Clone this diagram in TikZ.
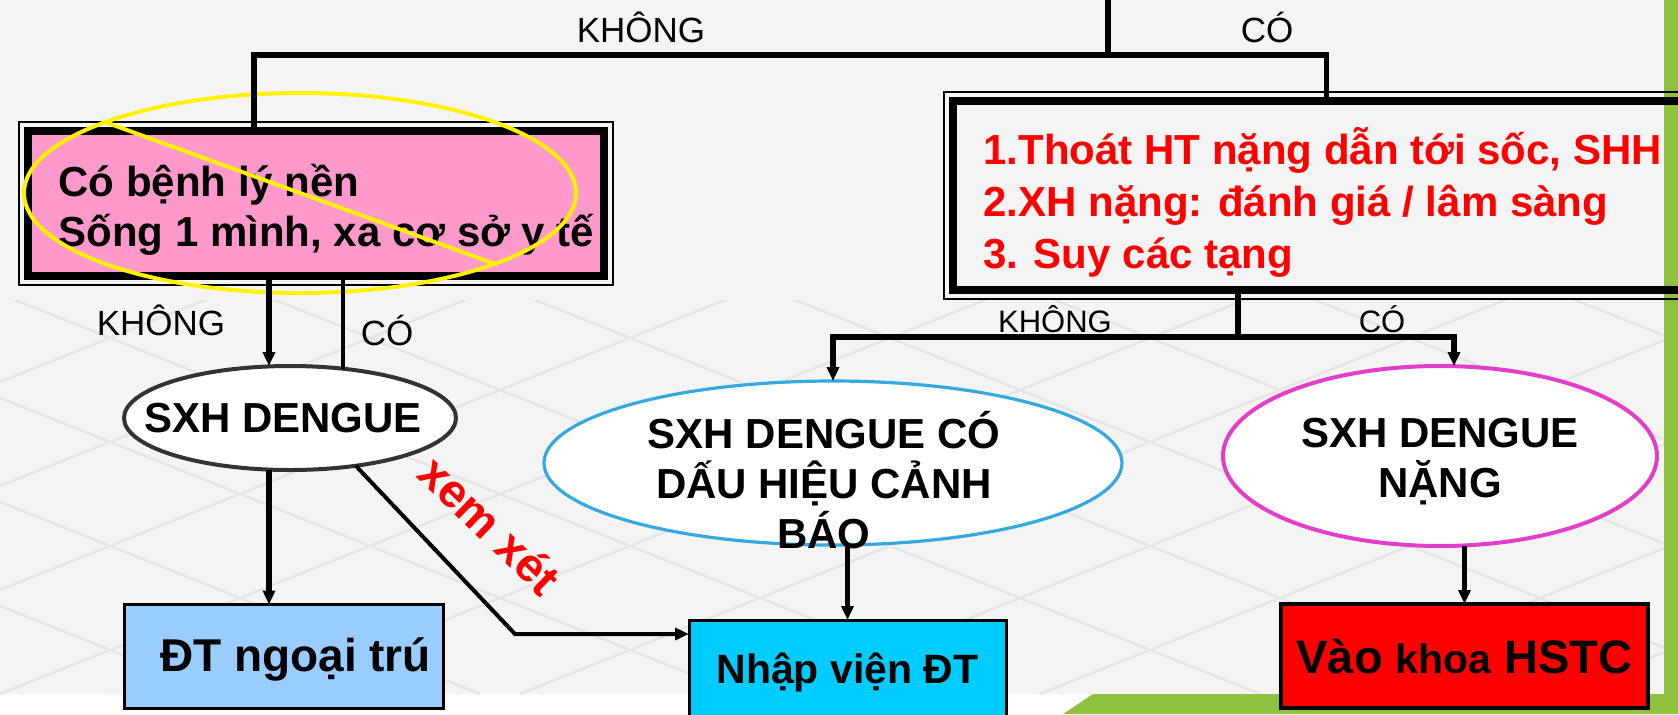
\documentclass[tikz,border=0pt]{standalone}
\usepackage{fontspec}
\setmainfont{Liberation Sans}
\usetikzlibrary{arrows.meta,positioning,calc,shapes.geometric}
\definecolor{bggray}{HTML}{F4F4F4}
\definecolor{gridgray}{HTML}{E5E5E5}
\definecolor{leaf}{HTML}{8DC13F}
\definecolor{pinkfill}{HTML}{FF99CC}
\definecolor{skyfill}{HTML}{99CCFF}
\definecolor{cyanfill}{HTML}{00CCFF}
\definecolor{skyline}{HTML}{35A9DF}
\definecolor{magline}{HTML}{E23FC9}
\definecolor{ovalline}{HTML}{333333}
\begin{document}
\begin{tikzpicture}[x=0.5pt,y=-0.5pt,>={Triangle[length=7pt,width=6pt]},
lbl/.style={font=\fontsize{17.5}{20}\selectfont,anchor=base},
big/.style={font=\bfseries\fontsize{21}{25}\selectfont},
dframe/.style={draw,line width=3.6pt,inner sep=0pt,outer sep=0pt},
oval/.style={ellipse,draw,fill=white,line width=2pt,inner sep=0pt,outer sep=0pt},
endbox/.style={draw,line width=1.5pt,inner sep=0pt,outer sep=0pt,minimum height=52pt},
wire/.style={line width=2.8pt}]
\useasboundingbox (0,0) rectangle (1678,714);
\clip (0,0) rectangle (1678,714);
\fill[bggray] (0,0) rectangle (1678,694);
\fill[white] (0,694) rectangle (1678,714);
\begin{scope}
\clip (0,300) rectangle (1664,694);
\foreach \k in {-4,...,7} {
  \draw[gridgray,line width=1.2pt] (\k*260,694) -- ++(1000,-400);
  \draw[gridgray,line width=1.2pt] (\k*260,294) -- ++(1000,400);
}
\end{scope}
\fill[leaf] (1664,0) rectangle (1678,714);
\fill[leaf] (1063,714) -- (1093,694) -- (1678,694) -- (1678,714) -- cycle;

\node[dframe,fill=pinkfill,minimum width=288pt,minimum height=72.5pt] (pbox) at (316,203.5) {};
\draw[line width=1pt] ([shift={(-9,-9)}]pbox.north west) rectangle ([shift={(9,9)}]pbox.south east);
\node[big,align=left,anchor=west,inner sep=0pt] (ptxt) at ([shift={(30,6)}]pbox.west)
  {Có bệnh lý nền\\Sống 1 mình, xa cơ sở y tế};
\node[dframe,minimum width=373.5pt,minimum height=94.5pt] (rbox) at (1326.5,195.5) {};
\draw[line width=1pt] ([shift={(-9,-9)}]rbox.north west) rectangle ([shift={(9,9)}]rbox.south east);
\node[text=red,align=left,anchor=west,inner sep=0pt,font=\bfseries\fontsize{21}{26}\selectfont] (rtxt) at ([shift={(30,7)}]rbox.west)
  {1.Thoát HT nặng dẫn tới sốc, SHH\\2.XH nặng: đánh giá / lâm sàng\\3. Suy các tạng};
\node[ellipse,draw=yellow,line width=2pt,minimum width=276pt,minimum height=100pt,inner sep=0pt] (cross) at (300,193) {};
\draw[yellow,line width=2pt] (cross.160) -- (cross.-20);

\node[oval,draw=ovalline,minimum width=166pt,minimum height=52pt,label={[big,xshift=-3.5pt]center:SXH DENGUE}] (dengue) at (290,418) {};
\node[oval,draw=skyline,line width=1.6pt,minimum width=289pt,minimum height=82pt,
  label={[big,align=center,xshift=-4.5pt,yshift=-8.5pt]center:{SXH DENGUE CÓ\\DẤU HIỆU CẢNH\\BÁO}}] (warn) at (833,463) {};
\node[oval,draw=magline,minimum width=217pt,minimum height=90pt,
  label={[big,align=center,yshift=-3pt]center:{SXH DENGUE\\NẶNG}}] (severe) at (1440,456) {};

\node[endbox,fill=skyfill,minimum width=159.5pt,
  label={[font=\bfseries\fontsize{23}{27}\selectfont,xshift=6pt,yshift=-1.5pt]center:ĐT ngoại trú}] (dtbox) at (283.5,656.5) {};
\node[endbox,fill=cyanfill,minimum width=158.5pt,font=\bfseries\fontsize{20.5}{24}\selectfont] (nvbox) at (847.5,672) {Nhập viện ĐT};
\node[endbox,fill=red,line width=2pt,minimum width=183.5pt,font=\bfseries\fontsize{23.5}{27}\selectfont] (redbox) at (1464.5,656)
  {Vào {\fontsize{20.5}{24}\selectfont khoa} HSTC};

\node[lbl] (k0) at (641,42) {KHÔNG};
\node[lbl] (c0) at (1267,42) {CÓ};
\node[lbl] (k1) at (161,335) {KHÔNG};
\node[lbl] (c1) at (387,345) {CÓ};
\node[lbl,font=\fontsize{15.5}{18}\selectfont] (k2) at (1055,332) {KHÔNG};
\node[lbl,font=\fontsize{15.5}{18}\selectfont] (c2) at (1382,332) {CÓ};
\node[font=\bfseries\fontsize{23.5}{27}\selectfont,text=red,rotate=-44] (xx) at (490,525) {xem xét};

\coordinate (top) at (1108,0);
\coordinate (j1) at (1108,55);
\coordinate (j2) at (1238,337);
\coordinate (xa) at (269,0);
\coordinate (xc) at (1454,0);
\coordinate (bend) at (515,634);
\draw[wire] (top) -- (j1);
\draw[wire] (j1) -| ([shift={(-62,0)}]pbox.north);
\draw[wire] (j1) -| (rbox.north);
\draw[wire,line width=3.4pt,->] (pbox.south -| xa) -- (dengue.north -| xa);
\draw[line width=1.8pt] (pbox.south -| dengue.43.5) -- (dengue.43.5);
\draw[wire,->] (dengue.south -| xa) -- (dtbox.north -| xa);
\draw[line width=2pt,->] (dengue.-36) -- (bend) -- (nvbox.west |- bend);
\draw[wire] (rbox.south -| j2) -- (j2);
\draw[wire,->] (j2) -| (warn.north);
\draw[wire,->] (j2) -| (severe.north -| xc);
\draw[wire,->] (warn.south -| nvbox.north) -- (nvbox.north);
\draw[wire,->] (severe.south -| redbox.north) -- (redbox.north);
\end{tikzpicture}
\end{document}
